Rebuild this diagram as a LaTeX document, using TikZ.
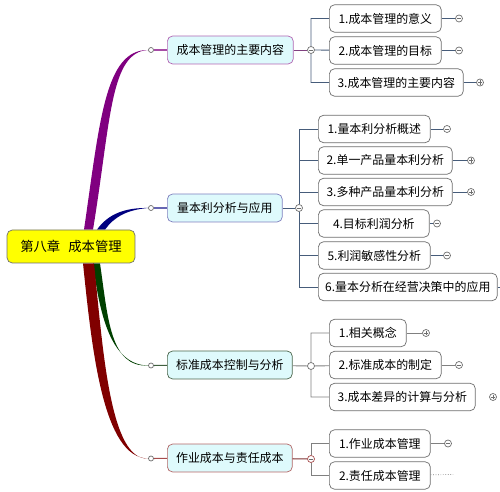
\documentclass[tikz,border=0pt]{standalone}
\usepackage{fontspec}
\newfontfamily\cjk{Noto Sans CJK SC}
\usepackage{tikz}
\usetikzlibrary{calc,backgrounds}
\definecolor{rootYellow}{RGB}{255,255,0}
\definecolor{mainCyan}{RGB}{222,250,252}
\definecolor{branchPurple}{RGB}{128,0,128}
\definecolor{branchBlue}{RGB}{0,0,128}
\definecolor{branchGreen}{RGB}{0,64,0}
\definecolor{branchRed}{RGB}{128,0,0}
\definecolor{treeSlate}{RGB}{70,92,122}
\definecolor{boxGray}{RGB}{110,110,110}

\tikzset{
  rootbox/.style={draw=boxGray,fill=rootYellow,rounded corners=3pt,
    minimum width=2.56cm,minimum height=0.66cm,inner sep=0pt,
    font=\cjk\fontsize{7.6}{9}\selectfont},
  mainbox/.style={draw=#1,fill=mainCyan,rounded corners=3pt,anchor=west,
    minimum height=0.56cm,inner sep=0pt},
  leafbox/.style={draw=boxGray,fill=white,rounded corners=3pt,anchor=west,
    minimum height=0.55cm,inner sep=0pt},
  joint/.style={circle,draw=boxGray,fill=white,inner sep=0pt,minimum size=0.1cm,line width=0.4pt},
  fold/.style={circle,draw=boxGray,fill=white,inner sep=0pt,minimum size=0.14cm,line width=0.4pt},
  foldminus/.style={fold,path picture={
    \draw[boxGray,line width=0.4pt] ($(path picture bounding box.center)+(-1.2pt,0)$)
      -- ($(path picture bounding box.center)+(1.2pt,0)$);}},
  foldplus/.style={fold,path picture={
    \draw[boxGray,line width=0.4pt] ($(path picture bounding box.center)+(-1.2pt,0)$)
      -- ($(path picture bounding box.center)+(1.2pt,0)$)
      ($(path picture bounding box.center)+(0,-1.2pt)$)
      -- ($(path picture bounding box.center)+(0,1.2pt)$);}},
  tree/.style={draw=treeSlate,line width=0.5pt},
}

\begin{document}
\begin{tikzpicture}[x=0.02cm,y=-0.02cm,font=\cjk\fontsize{6.8}{8}\selectfont]
\useasboundingbox (0,0) rectangle (500,492);

% root and main topics
\node[rootbox] (root) at (71,246.5) {第八章\hspace{0.6em}成本管理};
\node[mainbox=branchPurple!60,minimum width=2.52cm] (m1) at (167,50) {成本管理的主要内容};
\node[mainbox=branchBlue!50,minimum width=2.3cm] (m2) at (167,208) {量本利分析与应用};
\node[mainbox=branchGreen!40!gray,minimum width=2.5cm] (m3) at (167,365) {标准成本控制与分析};
\node[mainbox=branchRed!60,minimum width=2.5cm] (m4) at (167,458) {作业成本与责任成本};

\node[joint] (d1) at (151,50) {};
\node[joint] (d2) at (151,208) {};
\node[joint] (d3) at (151,365.5) {};
\node[joint] (d4) at (151,458.5) {};

% tapered branches
\begin{scope}[on background layer]
\fill[branchPurple] ($(root.north)+(13,0)$) .. controls (100,120) and (105,49.6) .. (d1.west)
  .. controls (110,52) and (111,120) .. ($(root.north)+(22,0)$) -- cycle;
\fill[branchBlue] ($(root.north)+(26,0)$) .. controls (108,214) and (125,207.6) .. (d2.west)
  .. controls (127,209.8) and (114,217) .. ($(root.north)+(34,0)$) -- cycle;
\fill[branchGreen] ($(root.south)+(22,0)$) .. controls (100,318) and (112,365) .. (d3.west)
  .. controls (110,367.5) and (108,318) .. ($(root.south)+(29,0)$) -- cycle;
\fill[branchRed] ($(root.south)+(12,0)$) .. controls (92,350) and (103,458) .. (d4.west)
  .. controls (110,461) and (103,350) .. ($(root.south)+(23,0)$) -- cycle;
\end{scope}

\draw[branchPurple!70,line width=0.6pt] (d1) -- (m1);
\draw[branchBlue!60,line width=0.6pt] (d2) -- (m2);
\draw[branchGreen!50!gray,line width=0.6pt] (d3) -- (m3);
\draw[branchRed!70,line width=0.6pt] (d4) -- (m4);

% branch 1
\node[foldminus] (s1) at (311,50) {};
\node[leafbox,minimum width=2.24cm] (a1) at (329,18.5) {1.成本管理的意义};
\node[leafbox,minimum width=2.24cm] (a2) at (329,50.5) {2.成本管理的目标};
\node[leafbox,minimum width=2.68cm] (a3) at (329,82.5) {3.成本管理的主要内容};
\node[foldminus] (fa1) at (459,18.5) {};
\node[foldminus] (fa2) at (459,50.5) {};
\node[foldplus] (fa3) at (480,82.5) {};
\draw[branchPurple!50!gray,line width=0.5pt] (m1) -- (s1);
\draw[tree] (s1) |- (a1) (s1) -- (a2) (s1) |- (a3);
\draw[tree] (a1) -- (fa1) (a2) -- (fa2) (a3) -- (fa3);

% branch 2
\node[foldminus] (s2) at (299,208) {};
\node[leafbox,minimum width=2.24cm] (b1) at (318,129) {1.量本利分析概述};
\node[leafbox,minimum width=2.68cm] (b2) at (318,160.5) {2.单一产品量本利分析};
\node[leafbox,minimum width=2.68cm] (b3) at (318,192) {3.多种产品量本利分析};
\node[leafbox,minimum width=2.22cm] (b4) at (318,223.5) {4.目标利润分析};
\node[leafbox,minimum width=2.24cm] (b5) at (318,255.5) {5.利润敏感性分析};
\node[leafbox,minimum width=3.58cm] (b6) at (318,287) {6.量本分析在经营决策中的应用};
\node[foldminus] (fb1) at (447,129) {};
\node[foldplus] (fb2) at (471,160.5) {};
\node[foldplus] (fb3) at (471,192) {};
\node[foldminus] (fb4) at (437,223.5) {};
\node[foldminus] (fb5) at (447,255.5) {};
\coordinate (fb6) at (500,287);
\draw[treeSlate,line width=0.5pt] (m2) -- (s2);
\draw[tree] (s2) |- (b1) (s2) |- (b2) (s2) |- (b3) (s2) |- (b4) (s2) |- (b5) (s2) |- (b6);
\draw[tree] (b1) -- (fb1) (b2) -- (fb2) (b3) -- (fb3) (b4) -- (fb4) (b5) -- (fb5) (b6) -- (fb6);

% branch 3
\node[fold] (s3) at (311,366) {};
\node[leafbox,minimum width=1.54cm] (c1) at (329,333) {1.相关概念};
\node[leafbox,minimum width=2.24cm] (c2) at (329,365) {2.标准成本的制定};
\node[leafbox,minimum width=2.92cm] (c3) at (329,397) {3.成本差异的计算与分析};
\node[foldplus] (fc1) at (426,333) {};
\node[foldminus] (fc2) at (459,365) {};
\node[foldplus] (fc3) at (493,397) {};
\draw[gray,line width=0.5pt] (m3) -- (s3);
\draw[tree,draw=gray] (s3) |- (c1) (s3) -- (c2) (s3) |- (c3);
\draw[tree,draw=gray] (c1) -- (fc1) (c2) -- (fc2);

% branch 4
\node[foldminus,draw=branchRed!70] (s4) at (311,459) {};
\node[leafbox,minimum width=2.02cm] (e1) at (329,443.5) {1.作业成本管理};
\node[leafbox,minimum width=2.02cm] (e2) at (329,475.5) {2.责任成本管理};
\node[foldminus] (fe1) at (448,443.5) {};
\coordinate (fe2) at (453,474.5);
\draw[branchRed!60!gray,line width=0.6pt] (m4) -- (s4);
\draw[tree,draw=gray] (s4) |- (e1) (s4) |- (e2);
\draw[tree,draw=gray] (e1) -- (fe1);
\draw[gray,densely dotted,line width=0.4pt] (e2) -- (fe2);
\end{tikzpicture}
\end{document}
